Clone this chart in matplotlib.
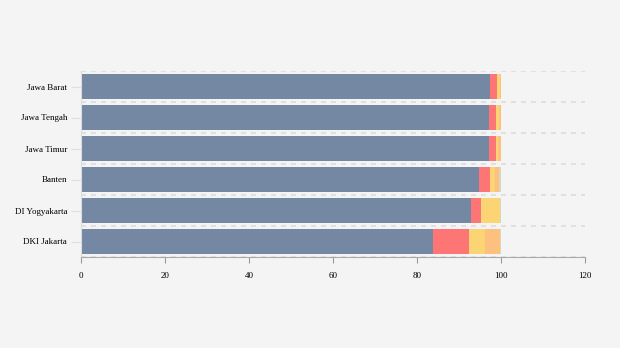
import numpy as np
import matplotlib.pyplot as plt

provinces = ['Jawa Barat', 'Jawa Tengah', 'Jawa Timur', 'Banten', 'DI Yogyakarta', 'DKI Jakarta']
s1 = [97.4, 97.1, 97.1, 94.8, 92.9, 83.8]
s2 = [1.7, 1.7, 1.7, 2.6, 2.4, 8.6]
s3 = [0.55, 0.8, 0.6, 1.2, 4.5, 3.8]
s4 = [0.3, 0.3, 0.5, 1.0, 0.0, 3.6]
s5 = [0.05, 0.1, 0.1, 0.4, 0.2, 0.2]
series = [s1, s2, s3, s4, s5]
colors = ['#7488a3', '#fd7575', '#fbd574', '#fcc17f', '#d9d6c0']

plt.rcParams['font.family'] = 'Liberation Serif'
fig = plt.figure(figsize=(6.2, 3.48), dpi=100, facecolor='#f4f4f4')
ax = fig.add_axes([81 / 620, 1 - 257 / 348, 504 / 620, 186 / 348])
ax.set_facecolor('#f4f4f4')

y = np.arange(len(provinces))
left = np.zeros(len(provinces))
for vals, c in zip(series, colors):
    ax.barh(y, vals, left=left, height=0.8, color=c, edgecolor='none')
    left += np.array(vals)

ax.set_xlim(0, 120)
ax.set_ylim(len(provinces) - 0.5, -0.5)
ax.set_xticks(range(0, 121, 20))
ax.set_yticks(y)
ax.set_yticklabels(provinces)
ax.set_yticks(np.arange(-0.5, len(provinces), 1), minor=True)
ax.grid(which='minor', axis='y', color='#dddddd', linestyle=(0, (3, 3)), linewidth=1.2)
ax.tick_params(axis='y', which='minor', length=0)
ax.tick_params(axis='y', which='major', length=7, color='#e0e0e0', labelsize=6.5, pad=3)
ax.tick_params(axis='x', length=4, color='#999999', labelsize=6.5, pad=7)
ax.set_axisbelow(True)

for s in ['top', 'right']:
    ax.spines[s].set_visible(False)
ax.spines['left'].set_color('#dddddd')
ax.spines['bottom'].set_color('#aaaaaa')
ax.spines['bottom'].set_linestyle((0, (3, 1)))

fig.savefig('out.png', dpi=100, facecolor=fig.get_facecolor())
